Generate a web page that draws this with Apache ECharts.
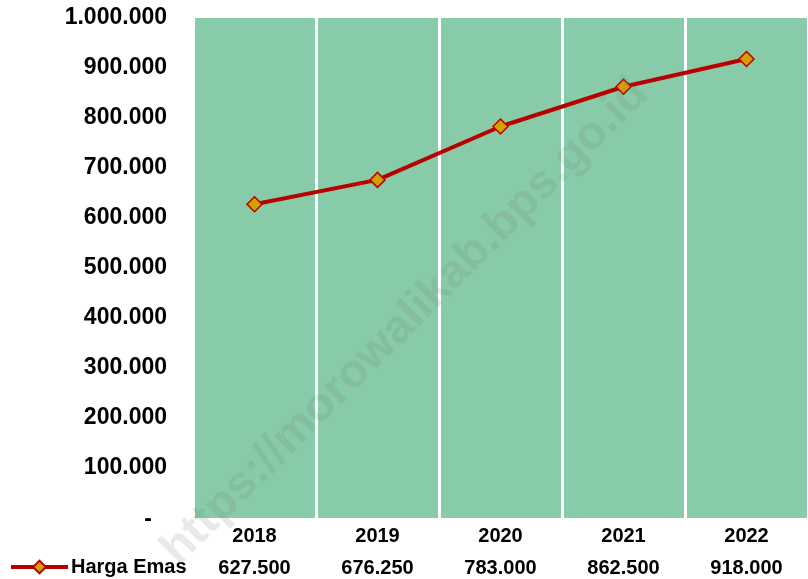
<!DOCTYPE html>
<html>
<head>
<meta charset="utf-8">
<script src="https://cdn.jsdelivr.net/npm/echarts@6/dist/echarts.min.js"></script>
<style>
  html, body { margin: 0; padding: 0; background: #fff; }
  #chart { width: 808px; height: 579px; }
</style>
</head>
<body>
<div id="chart"></div>
<script>
// data
const years = ['2018', '2019', '2020', '2021', '2022']
const hargaEmas = [627500, 676250, 783000, 862500, 918000]
const seriesName = 'Harga Emas'

// 1.000.000 style, 0 shown as "-" (accounting style, sits a bit left)
function fmt(v) {
  if (v === 0) return '{d|-}'
  return String(v).replace(/\B(?=(\d{3})+(?!\d))/g, '.')
}

const chart = echarts.init(document.getElementById('chart'))
chart.setOption({
  animation: false,
  textStyle: { fontFamily: 'Liberation Sans, Arial, sans-serif' },
  grid: { left: 193, top: 18, width: 622, height: 500 },
  legend: {
    left: 4, top: 552,
    itemWidth: 57, itemHeight: 16,
    itemGap: 5,
    lineStyle: { width: 4, color: '#B80000' },
    textStyle: { fontSize: 20, fontWeight: 'bold', color: '#000', padding: [0, 0, 0, -2] },
    data: [seriesName]
  },
  xAxis: {
    type: 'category',
    data: years,
    axisLine: { show: false },
    axisTick: { show: false },
    splitArea: { show: true, areaStyle: { color: ['#88CBA8', '#88CBA8'] } },
    splitLine: { show: true, lineStyle: { color: '#fff', width: 3 } },
    axisLabel: {
      margin: 2,
      formatter: (val, i) => '{y|' + val + '}\n{v|' + fmt(hargaEmas[i]) + '}',
      rich: {
        y: { fontSize: 20, fontWeight: 'bold', color: '#000', lineHeight: 32 },
        v: { fontSize: 20, fontWeight: 'bold', color: '#000', lineHeight: 32 }
      }
    }
  },
  yAxis: {
    type: 'value',
    min: 0, max: 1000000, interval: 100000,
    axisLine: { show: false },
    axisTick: { show: false },
    splitLine: { show: false },
    axisLabel: {
      margin: 26,
      fontSize: 23, fontWeight: 'bold', color: '#000',
      formatter: fmt,
      rich: {
        d: { fontSize: 23, fontWeight: 'bold', color: '#000', padding: [4, 15, 0, 0] }
      }
    }
  },
  series: [{
    name: seriesName,
    type: 'line',
    data: hargaEmas,
    symbol: 'diamond',
    symbolSize: 15,
    lineStyle: { color: '#B80000', width: 4 },
    itemStyle: { color: '#D4A000', borderColor: '#B80000', borderWidth: 1.5 },
    z: 5
  }],
  graphic: [{
    type: 'text',
    x: 405, y: 322,
    rotation: Math.PI / 4,
    z: 100,
    silent: true,
    style: {
      text: 'https://morowalikab.bps.go.id',
      font: 'bold 47px Liberation Sans, Arial, sans-serif',
      fill: 'rgba(120,120,120,0.16)',
      align: 'center',
      verticalAlign: 'middle'
    }
  }]
})
</script>
</body>
</html>
